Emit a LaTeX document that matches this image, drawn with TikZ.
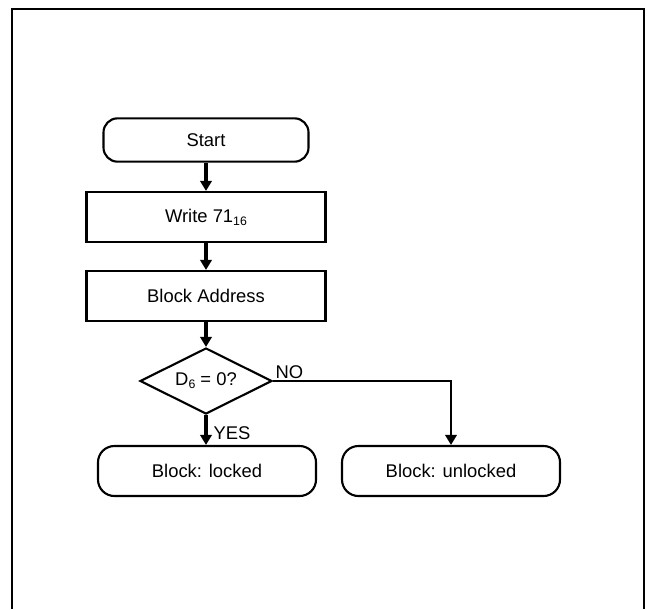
\documentclass[tikz,border=0pt]{standalone}
\usepackage{fontspec}
\setmainfont{Liberation Sans}
\usepackage{tikz}
\usetikzlibrary{arrows.meta,shapes.geometric}
\newcommand{\lowidx}[1]{\raisebox{-0.3ex}{\fontsize{10.5}{12}\selectfont #1}}

\begin{document}
\begin{tikzpicture}[x=0.03cm,y=-0.03cm,
    font=\fontsize{15.7}{19}\selectfont,
    term/.style={draw,line width=1.8pt,rounded corners=12pt,minimum width=6.15cm,minimum height=1.3cm,inner sep=0pt},
    proc/.style={draw,line width=1.8pt,minimum width=7.17cm,minimum height=1.5cm,inner sep=0pt},
    endbox/.style={draw,line width=1.8pt,rounded corners=14pt,minimum width=6.54cm,minimum height=1.5cm,inner sep=0pt},
    test/.style={draw,line width=1.8pt,diamond,aspect=2,minimum width=3.96cm,minimum height=1.98cm,inner sep=0pt},
    flow/.style={line width=2.8pt,-{Triangle[length=0.3cm,width=0.34cm]}}]
  \useasboundingbox (0,0) rectangle (647,609);
  \draw[line width=2.4pt] (12,609) -- (12,9) -- (644,9) -- (644,609);

  \node[term] (start) at (206,140) {Start};
  \node[proc] (write) at (206,217) {Write 71\lowidx{16}};
  \node[proc] (addr) at (206,296) {Block Address};
  \node[test] (chk) at (206,381) {D\lowidx{6} = 0?};
  \node[endbox] (lock) at (207,471) {Block: locked};
  \node[endbox] (unlock) at (451,471) {Block: unlocked};

  \draw[flow] (start) -- (write);
  \draw[flow] (write) -- (addr);
  \draw[flow] (addr) -- (chk);
  \draw[flow] (chk.south) -- (chk.south |- lock.north) node[pos=0.6,anchor=west,inner sep=5pt] {YES};
  \draw[flow,line width=2.2pt] (chk.east) -| (unlock.north);
  \node[anchor=south west,inner sep=2pt] (no) at (chk.east) {NO};
\end{tikzpicture}
\end{document}
